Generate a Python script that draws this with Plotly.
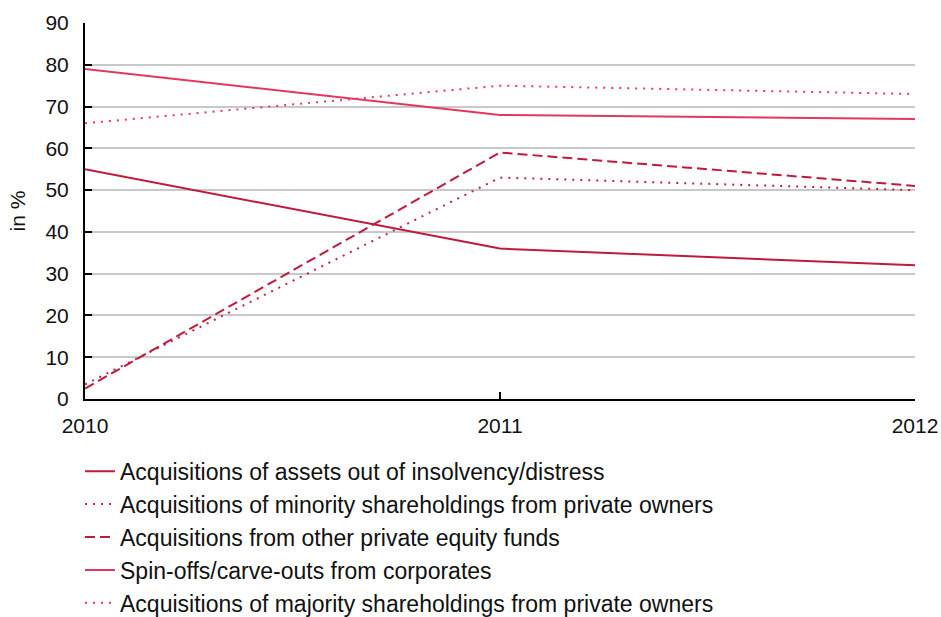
import plotly.graph_objects as go

years = ["2010", "2011", "2012"]

assets_distress = [55, 36, 32]
minority_private = [3.5, 53, 50]
other_pe_funds = [2.5, 59, 51]
spin_offs = [79, 68, 67]
majority_private = [66, 75, 73]

series = [
    ("Acquisitions of assets out of insolvency/distress", assets_distress, "#BE1A3C", "solid"),
    ("Acquisitions of minority shareholdings from private owners", minority_private, "#C4203F", "2px,6px"),
    ("Acquisitions from other private equity funds", other_pe_funds, "#BE1A3C", "10px,5px"),
    ("Spin-offs/carve-outs from corporates", spin_offs, "#E3385C", "solid"),
    ("Acquisitions of majority shareholdings from private owners", majority_private, "#E3385C", "2px,6px"),
]

fig = go.Figure()
for i, (name, vals, color, dash) in enumerate(series):
    fig.add_trace(go.Scatter(
        x=[0, 1, 2], y=vals, name=name, mode="lines",
        line=dict(color=color, width=2, dash=dash),
        legendgroup=f"g{i}",
    ))

font = "Liberation Sans, Arial, sans-serif"
fig.update_layout(
    width=941, height=617,
    margin=dict(l=85, r=26, t=23, b=218, autoexpand=False),
    paper_bgcolor="white", plot_bgcolor="white",
    font=dict(family=font, size=21, color="#111111"),
    showlegend=True,
    legend=dict(
        x=-0.006, xanchor="left", y=-0.135, yanchor="top",
        font=dict(size=23, family=font, color="#111111"),
        tracegroupgap=6, traceorder="normal",
    ),
    xaxis=dict(
        range=[0, 2], tickvals=[0, 1, 2], ticktext=years,
        showgrid=False, zeroline=False,
        showline=True, linecolor="black", linewidth=2,
        ticks="inside", ticklen=7, tickwidth=2, tickcolor="black",
        tickfont=dict(size=21), ticklabelstandoff=7,
    ),
    yaxis=dict(
        range=[0, 90], dtick=10,
        showgrid=True, gridcolor="#c8c8c8", gridwidth=1.5,
        zeroline=False,
        showline=True, linecolor="black", linewidth=2,
        ticks="inside", ticklen=7, tickwidth=2, tickcolor="black",
        tickfont=dict(size=21), ticklabelstandoff=10,
        title=dict(text="in %", font=dict(size=21), standoff=14),
    ),
)

fig.write_html("out.html")
